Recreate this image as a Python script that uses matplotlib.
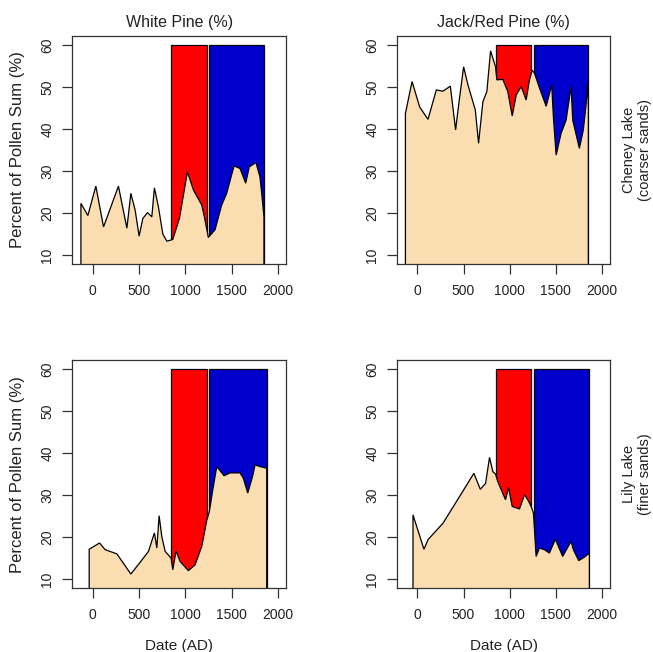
import matplotlib
matplotlib.use("Agg")
import matplotlib.pyplot as plt
from matplotlib.patches import Rectangle

plt.rcParams['font.family'] = ['Liberation Sans', 'DejaVu Sans']

# ---- data -------------------------------------------------------------
col_titles = ["White Pine (%)", "Jack/Red Pine (%)"]
row_labels = ["Cheney Lake\n(coarser sands)", "Lily Lake\n(finer sands)"]
y_label = "Percent of Pollen Sum (%)"
x_label = "Date (AD)"

x_ticks = [0, 500, 1000, 1500, 2000]
y_ticks = [10, 20, 30, 40, 50, 60]

warm_period = (850, 1232)      # red band
cold_start = 1260              # blue band start (runs to end of record)
band_top = 60

# White pine, Cheney Lake
wp_cheney_year = [-125, -50, 36, 119, 280, 371, 414, 460, 503, 543, 593, 640,
                  668, 711, 759, 802, 866, 938, 1024, 1089, 1179, 1207, 1250,
                  1322, 1394, 1448, 1527, 1592, 1653, 1692, 1764, 1807, 1825,
                  1850]
wp_cheney_val = [22.3, 19.4, 26.4, 16.7, 26.4, 16.4, 24.7, 20.7, 14.5, 18.7,
                 20.1, 19.1, 26.0, 21.5, 15.0, 13.3, 13.7, 18.7, 29.8, 25.5,
                 21.9, 19.1, 14.2, 16.0, 21.9, 24.7, 31.2, 30.6, 27.1, 31.0,
                 32.0, 28.6, 24.9, 19.1]

# Jack/Red pine, Cheney Lake
jr_cheney_year = [-130, -58, 25, 115, 205, 277, 357, 414, 447, 501, 548, 628,
                  663, 710, 753, 793, 847, 861, 926, 980, 1028, 1071, 1125,
                  1179, 1215, 1244, 1269, 1323, 1396, 1456, 1475, 1504, 1558,
                  1612, 1666, 1684, 1756, 1799, 1828, 1846, 1853]
jr_cheney_val = [43.7, 51.3, 45.2, 42.3, 49.3, 49.0, 50.2, 39.8, 45.7, 54.8,
                 50.5, 44.5, 36.6, 46.5, 48.9, 58.6, 54.8, 51.7, 51.8, 48.9,
                 43.1, 48.1, 50.1, 46.9, 51.7, 54.0, 53.3, 49.8, 45.4, 50.5,
                 42.6, 33.8, 39.0, 42.1, 50.1, 42.1, 35.4, 39.8, 45.7, 50.9,
                 45.3]

# White pine, Lily Lake
wp_lily_year = [-36, 76, 137, 263, 414, 514, 604, 668, 694, 719, 748, 784,
                848, 866, 902, 945, 1035, 1107, 1179, 1233, 1261, 1298, 1341,
                1420, 1484, 1592, 1628, 1675, 1729, 1754, 1808, 1880]
wp_lily_val = [17.1, 18.6, 17.0, 16.0, 11.2, 14.0, 16.6, 21.0, 17.4, 25.1,
               20.1, 16.6, 15.0, 12.2, 16.7, 14.2, 12.0, 13.4, 17.8, 24.0,
               26.1, 31.3, 36.8, 34.6, 35.3, 35.3, 34.0, 30.5, 34.6, 37.2,
               36.8, 36.4]

# Jack/Red pine, Lily Lake
jr_lily_year = [-48, 71, 115, 277, 458, 612, 682, 739, 782, 818, 847, 872,
                955, 988, 1028, 1107, 1161, 1197, 1233, 1258, 1287, 1323, 1377,
                1431, 1496, 1575, 1666, 1691, 1749, 1810, 1864]
jr_lily_val = [25.3, 17.1, 19.4, 23.3, 29.7, 35.2, 31.4, 32.8, 39.0, 35.6,
               35.0, 33.2, 28.9, 31.8, 27.3, 26.7, 30.1, 28.9, 27.3, 25.7,
               15.4, 17.4, 17.0, 16.2, 19.5, 15.4, 19.0, 17.0, 14.4, 15.2,
               16.2]

series = [[(wp_cheney_year, wp_cheney_val), (jr_cheney_year, jr_cheney_val)],
          [(wp_lily_year, wp_lily_val), (jr_lily_year, jr_lily_val)]]

# ---- styling ----------------------------------------------------------
fill_col = "#FADDB1"
red_col = "#FF0000"
blue_col = "#0000CD"
txt_col = "#222222"

W, H = 653, 652
fig = plt.figure(figsize=(W / 100, H / 100), dpi=100)

lefts = [72.3, 397.3]
rights = [286.0, 610.0]
tops = [35.7, 360.0]
bottoms = [264.3, 588.3]

for r in range(2):
    for c in range(2):
        l = lefts[c] / W
        w = (rights[c] - lefts[c]) / W
        b = 1 - bottoms[r] / H
        h = (bottoms[r] - tops[r]) / H
        ax = fig.add_axes([l, b, w, h])
        yrs, vals = series[r][c]
        end = yrs[-1]
        ax.add_patch(Rectangle((warm_period[0], 0), warm_period[1] - warm_period[0],
                               band_top, facecolor=red_col, edgecolor="black",
                               linewidth=0.9, zorder=1))
        ax.add_patch(Rectangle((cold_start, 0), end - cold_start, band_top,
                               facecolor=blue_col, edgecolor="black",
                               linewidth=0.9, zorder=1))
        px = [yrs[0]] + list(yrs) + [yrs[-1]]
        py = [0] + list(vals) + [0]
        ax.fill(px, py, facecolor=fill_col, edgecolor="black", linewidth=0.9,
                zorder=2)
        ax.set_xlim(-218, 2088)
        ax.set_ylim(7.8, 62.2)
        ax.set_xticks(x_ticks)
        ax.set_yticks(y_ticks)
        ax.tick_params(axis="both", direction="out", length=7, width=0.9,
                       colors="#333333", labelcolor=txt_col, labelsize=10)
        ax.tick_params(axis="x", pad=7.5)
        ax.tick_params(axis="y", pad=6)
        for lab in ax.get_yticklabels():
            lab.set_rotation(90)
            lab.set_va("center")
        for s in ax.spines.values():
            s.set_linewidth(0.9)
            s.set_color("#333333")
        if r == 0:
            ax.set_title(col_titles[c], fontsize=11.5, color=txt_col, pad=6)
        if c == 0:
            ax.set_ylabel(y_label, fontsize=12, color=txt_col, labelpad=11)
        if r == 1:
            ax.set_xlabel(x_label, fontsize=11, color=txt_col, labelpad=12)
        if c == 1:
            ax.text(1.128, 0.5, row_labels[r], transform=ax.transAxes,
                    rotation=90, ha="center", va="center", fontsize=10.5,
                    color=txt_col, linespacing=1.15)

fig.savefig("out.png", dpi=100)
